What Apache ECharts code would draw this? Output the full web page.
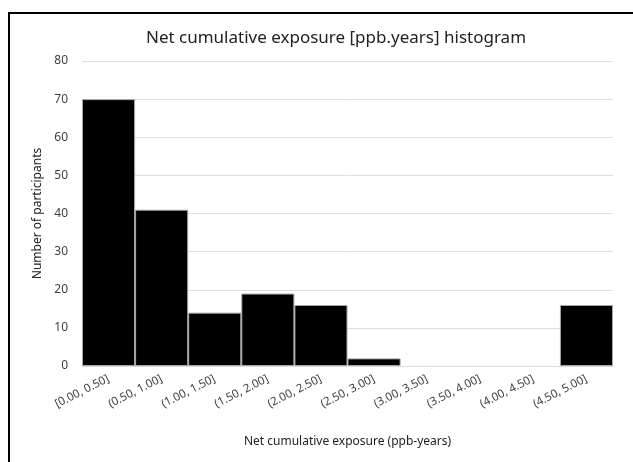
<!DOCTYPE html>
<html>
<head>
<meta charset="utf-8">
<script src="https://cdn.jsdelivr.net/npm/echarts@6/dist/echarts.min.js"></script>
<style>
  html, body { margin: 0; padding: 0; background: #fff; }
  #chart { width: 633px; height: 462px; }
</style>
</head>
<body>
<div id="chart"></div>
<script>
// histogram bins and counts
const bins = [
  "[0.00, 0.50]", "(0.50, 1.00]", "(1.00, 1.50]", "(1.50, 2.00]", "(2.00, 2.50]",
  "(2.50, 3.00]", "(3.00, 3.50]", "(3.50, 4.00]", "(4.00, 4.50]", "(4.50, 5.00]",
];
const counts = [70, 41, 14, 19, 16, 2, 0, 0, 0, 16];

const FONT = "Noto Sans";

const chart = echarts.init(document.getElementById("chart"));

// empty bins get no outline so the axis stays light
const barData = counts.map((v) =>
  v === 0 ? { value: v, itemStyle: { borderWidth: 0 } } : v
);

chart.setOption({
  animation: false,
  textStyle: { fontFamily: FONT },
  title: {
    text: "Net cumulative exposure [ppb.years] histogram",
    left: 331,
    top: 25,
    textAlign: "center",
    textStyle: { fontFamily: FONT, fontSize: 17, fontWeight: "normal", color: "#222" },
  },
  // frame lines on the top and left of the picture
  graphic: [
    { type: "line", shape: { x1: 8, y1: 13, x2: 633, y2: 13 }, style: { stroke: "#000", lineWidth: 2 } },
    { type: "line", shape: { x1: 9, y1: 12, x2: 9, y2: 462 }, style: { stroke: "#000", lineWidth: 2 } },
  ],
  grid: { left: 82, right: 20, top: 61, bottom: 96 },
  xAxis: {
    type: "category",
    data: bins,
    name: "Net cumulative exposure (ppb-years)",
    nameLocation: "middle",
    nameGap: 70,
    nameTextStyle: { fontFamily: FONT, fontSize: 12, color: "#222" },
    axisLine: { lineStyle: { color: "#d9d9d9" } },
    axisTick: { show: false },
    axisLabel: { rotate: 27, interval: 0, fontSize: 11.5, color: "#404040", margin: 12 },
  },
  yAxis: {
    type: "value",
    min: 0,
    max: 80,
    interval: 10,
    name: "Number of participants",
    nameLocation: "middle",
    nameGap: 36,
    nameTextStyle: { fontFamily: FONT, fontSize: 12, color: "#222" },
    axisLine: { show: false },
    axisTick: { show: false },
    axisLabel: { fontSize: 12, color: "#404040", margin: 14 },
    splitLine: { lineStyle: { color: "#dedede" } },
  },
  series: [
    {
      type: "bar",
      data: barData,
      barCategoryGap: "0%",
      itemStyle: { color: "#000", borderColor: "#a6a6a6", borderWidth: 1 },
    },
  ],
});
</script>
</body>
</html>
